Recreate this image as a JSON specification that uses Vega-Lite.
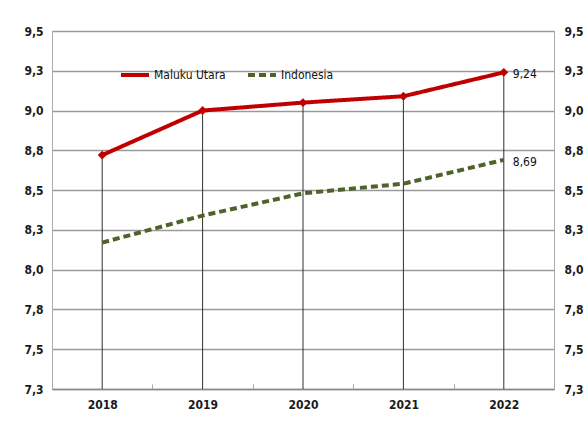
{
  "$schema": "https://vega.github.io/schema/vega-lite/v6.json",
  "width": 502,
  "height": 358,
  "autosize": {"type": "none"},
  "padding": {"left": 52, "top": 31, "right": 30, "bottom": 39},
  "background": "white",
  "config": {
    "locale": {"number": {"decimal": ",", "thousands": ".", "grouping": [3], "currency": ["", ""]}},
    "view": {"stroke": "#9a9a9a", "strokeWidth": 1},
    "font": "'DejaVu Sans Condensed', 'Liberation Sans Narrow', Lato, sans-serif"
  },
  "data": {
    "values": [
      {"year": "2018", "series": "Maluku Utara", "value": 8.72},
      {"year": "2019", "series": "Maluku Utara", "value": 9.0},
      {"year": "2020", "series": "Maluku Utara", "value": 9.05},
      {"year": "2021", "series": "Maluku Utara", "value": 9.09},
      {"year": "2022", "series": "Maluku Utara", "value": 9.24},
      {"year": "2018", "series": "Indonesia", "value": 8.17},
      {"year": "2019", "series": "Indonesia", "value": 8.34},
      {"year": "2020", "series": "Indonesia", "value": 8.48},
      {"year": "2021", "series": "Indonesia", "value": 8.54},
      {"year": "2022", "series": "Indonesia", "value": 8.69}
    ]
  },
  "encoding": {
    "x": {
      "field": "year", "type": "ordinal", "bandPosition": 0.5,
      "scale": {"type": "band", "paddingInner": 0, "paddingOuter": 0},
      "axis": {
        "title": null, "labelAngle": 0, "labelFontSize": 12, "labelFontWeight": "bold",
        "labelColor": "#1a1a1a", "labelPadding": 15, "domainColor": "#8a8a8a", "domainWidth": 1.5,
        "tickBand": "extent", "tickSize": -5, "tickColor": "#aaa", "grid": false
      }
    }
  },
  "layer": [
    {
      "transform": [{"filter": "datum.series === 'Maluku Utara'"}],
      "mark": {"type": "rule", "color": "#303030", "strokeWidth": 1},
      "encoding": {
        "y": {
          "field": "value", "type": "quantitative",
          "scale": {"domain": [7.25, 9.5], "nice": false, "zero": false},
          "axis": {
            "orient": "left", "title": null, "values": [7.25, 7.5, 7.75, 8, 8.25, 8.5, 8.75, 9, 9.25, 9.5],
            "format": ".1f", "labelFontSize": 12, "labelFontWeight": "bold", "labelColor": "#1a1a1a",
            "labelPadding": 9, "ticks": false, "domainColor": "#aaa", "grid": true,
            "gridColor": "#9a9a9a", "gridWidth": 1.3
          }
        },
        "y2": {"datum": 7.25}
      }
    },
    {
      "mark": {"type": "line", "strokeWidth": 4},
      "encoding": {
        "y": {"field": "value", "type": "quantitative", "axis": null},
        "color": {
          "field": "series", "type": "nominal",
          "scale": {"domain": ["Maluku Utara", "Indonesia"], "range": ["#C00000", "#4F6228"]},
          "legend": {
            "orient": "none", "legendX": 67, "legendY": 28, "direction": "horizontal", "title": null,
            "symbolType": "stroke", "symbolSize": 784, "symbolStrokeWidth": 4, "labelFontSize": 12,
            "labelColor": "#111", "labelOffset": 3, "columnPadding": 14
          }
        },
        "strokeDash": {
          "field": "series", "type": "nominal",
          "scale": {"domain": ["Maluku Utara", "Indonesia"], "range": [[1, 0], [7, 4]]},
          "legend": {
            "orient": "none", "legendX": 67, "legendY": 28, "direction": "horizontal", "title": null,
            "symbolType": "stroke", "symbolSize": 784, "symbolStrokeWidth": 4, "labelFontSize": 12,
            "labelColor": "#111", "labelOffset": 3, "columnPadding": 14
          }
        }
      }
    },
    {
      "transform": [{"filter": "datum.series === 'Maluku Utara'"}],
      "mark": {"type": "point", "shape": "diamond", "filled": true, "size": 80, "color": "#C00000", "opacity": 1},
      "encoding": {
        "y": {
          "field": "value", "type": "quantitative",
          "axis": {
            "orient": "right", "title": null, "values": [7.25, 7.5, 7.75, 8, 8.25, 8.5, 8.75, 9, 9.25, 9.5],
            "format": ".1f", "labelFontSize": 12, "labelFontWeight": "bold", "labelColor": "#1a1a1a",
            "labelPadding": 10, "ticks": false, "domainColor": "#aaa", "grid": false
          }
        }
      }
    },
    {
      "transform": [{"filter": "datum.year === '2022'"}],
      "mark": {"type": "text", "align": "left", "dx": 9, "dy": 2, "fontSize": 12, "color": "#111"},
      "encoding": {
        "y": {"field": "value", "type": "quantitative", "axis": null},
        "text": {"field": "value", "type": "quantitative", "format": ".2f"}
      }
    }
  ],
  "resolve": {"axis": {"y": "independent"}}
}
